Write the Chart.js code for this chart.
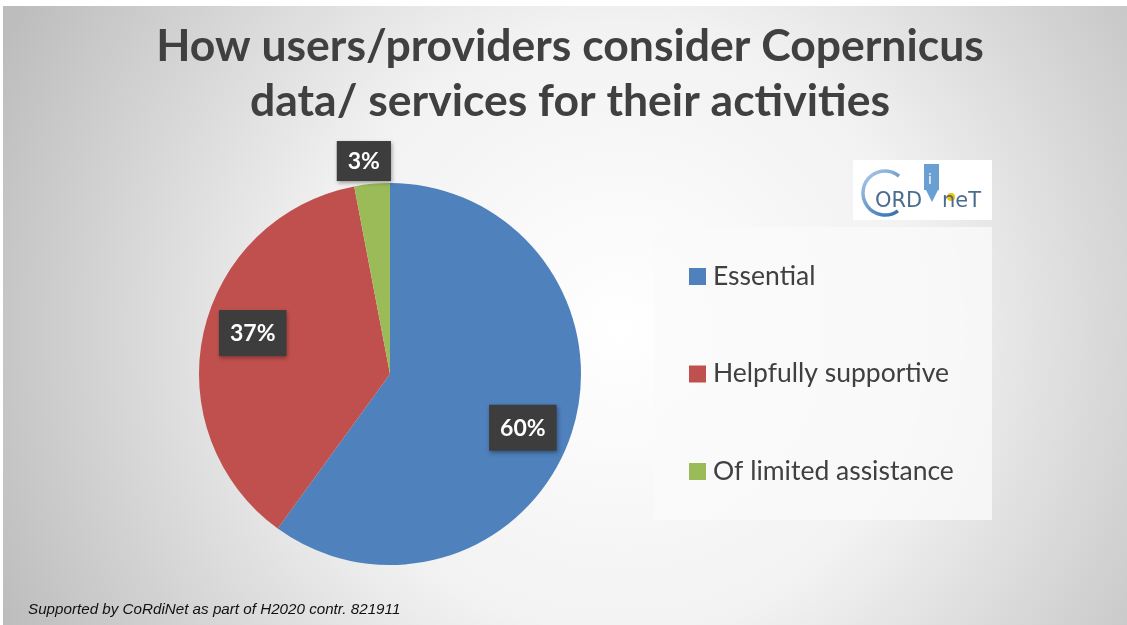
<!DOCTYPE html>
<html>
<head>
<meta charset="utf-8">
<script src="https://cdn.jsdelivr.net/npm/chart.js@4"></script>
<style>
  html, body { margin: 0; padding: 0; background: #fff; }
  #wrap { width: 1127px; height: 625px; }
</style>
</head>
<body>
<div id="wrap"><canvas id="pieChart" width="1127" height="625"></canvas></div>
<script>
// chart values
const categories = ['Essential', 'Helpfully supportive', 'Of limited assistance'];
const shares = [60, 37, 3];
const sliceColors = ['#4f81bd', '#c0504d', '#9bbb59'];
const titleLines = ['How users/providers consider Copernicus', 'data/ services for their activities'];
const footerText = 'Supported by CoRdiNet as part of H2020 contr. 821911';

// slide background + title + footer
const slideBackground = {
    id: 'slideBackground',
    beforeDraw(chart) {
        const ctx = chart.ctx;
        ctx.save();
        ctx.fillStyle = '#fff';
        ctx.fillRect(0, 0, chart.width, chart.height);
        const g = ctx.createRadialGradient(620, 330, 0, 620, 330, 680);
        g.addColorStop(0, '#ffffff');
        g.addColorStop(0.45, '#f2f2f2');
        g.addColorStop(1, '#bdbdbd');
        ctx.fillStyle = g;
        ctx.fillRect(3, 6, chart.width - 3, chart.height - 6);

        ctx.fillStyle = '#404040';
        ctx.font = 'bold 44.5px Lato';
        ctx.textAlign = 'center';
        ctx.textBaseline = 'alphabetic';
        ctx.fillText(titleLines[0], 570, 61);
        ctx.fillText(titleLines[1], 570, 116);

        ctx.font = 'italic 15.2px "Liberation Sans"';
        ctx.textAlign = 'left';
        ctx.fillStyle = '#111';
        ctx.fillText(footerText, 28, 614);
        ctx.restore();
    }
};

// percentage boxes, legend panel, logo
const overlay = {
    id: 'overlay',
    afterDraw(chart) {
        const ctx = chart.ctx;
        const meta = chart.getDatasetMeta(0);
        const total = shares.reduce((a, b) => a + b, 0);
        ctx.save();

        meta.data.forEach((arc, i) => {
            const outside = shares[i] / total < 0.05;
            const mid = (arc.startAngle + arc.endAngle) / 2 + (outside ? 0 : 0.07);
            const r = arc.outerRadius * (outside ? 1.12 : 0.75);
            const x = arc.x + Math.cos(mid) * r - (outside ? 6 : 0);
            const y = arc.y + Math.sin(mid) * r;
            const txt = shares[i] + '%';
            ctx.font = 'bold 23px Lato';
            const w = ctx.measureText(txt).width + 22;
            const h = txt.length > 2 ? 46 : 40;
            ctx.shadowColor = 'rgba(0,0,0,0.35)';
            ctx.shadowBlur = 4;
            ctx.shadowOffsetX = 1;
            ctx.shadowOffsetY = 2;
            ctx.fillStyle = '#3d3d3d';
            ctx.fillRect(x - w / 2, y - h / 2, w, h);
            ctx.shadowColor = 'transparent';
            ctx.fillStyle = '#fff';
            ctx.textAlign = 'center';
            ctx.textBaseline = 'middle';
            ctx.fillText(txt, x, y + 1);
        });

        // legend panel
        ctx.fillStyle = 'rgba(250,250,250,0.8)';
        ctx.fillRect(654, 227, 338, 293);
        ctx.font = '26.5px Lato';
        ctx.textAlign = 'left';
        ctx.textBaseline = 'middle';
        categories.forEach((c, i) => {
            const y = 276 + i * 97.5;
            ctx.fillStyle = sliceColors[i];
            ctx.fillRect(689, y - 8, 17, 17);
            ctx.fillStyle = '#404040';
            ctx.fillText(c, 713, y);
        });

        // logo
        ctx.fillStyle = '#fff';
        ctx.fillRect(853, 160, 139, 60);
        const lg = ctx.createLinearGradient(860, 170, 900, 215);
        lg.addColorStop(0, '#b5d2ee');
        lg.addColorStop(1, '#2f6db0');
        ctx.strokeStyle = lg;
        ctx.lineWidth = 3.5;
        ctx.beginPath();
        ctx.arc(885, 193, 22, Math.PI * 0.3, Math.PI * 1.72);
        ctx.stroke();
        ctx.fillStyle = '#4a6c8f';
        ctx.font = '21px "DejaVu Sans"';
        ctx.textBaseline = 'alphabetic';
        ctx.fillText('ORD', 875, 207);
        ctx.fillStyle = '#6a9fd4';
        ctx.fillRect(924, 164, 15, 26);
        ctx.beginPath();
        ctx.moveTo(926, 190); ctx.lineTo(932, 202); ctx.lineTo(938, 190);
        ctx.fill();
        ctx.fillStyle = '#fff';
        ctx.font = '14px "DejaVu Sans"';
        ctx.fillText('i', 928, 184);
        ctx.fillStyle = '#f2c200';
        ctx.beginPath();
        ctx.arc(951, 197, 4, 0, Math.PI * 2);
        ctx.fill();
        ctx.fillStyle = '#4a6c8f';
        ctx.font = '21px "DejaVu Sans"';
        ctx.fillText('neT', 942, 207);

        ctx.restore();
    }
};

new Chart('pieChart', {
    type: 'pie',
    data: {
        labels: categories,
        datasets: [{
            data: shares,
            backgroundColor: sliceColors,
            borderWidth: 0
        }]
    },
    options: {
        responsive: false,
        animation: false,
        layout: { padding: { left: 199, right: 546, top: 183, bottom: 60 } },
        plugins: {
            legend: { display: false },
            tooltip: { enabled: false },
            title: { display: false }
        }
    },
    plugins: [slideBackground, overlay]
});
</script>
</body>
</html>
